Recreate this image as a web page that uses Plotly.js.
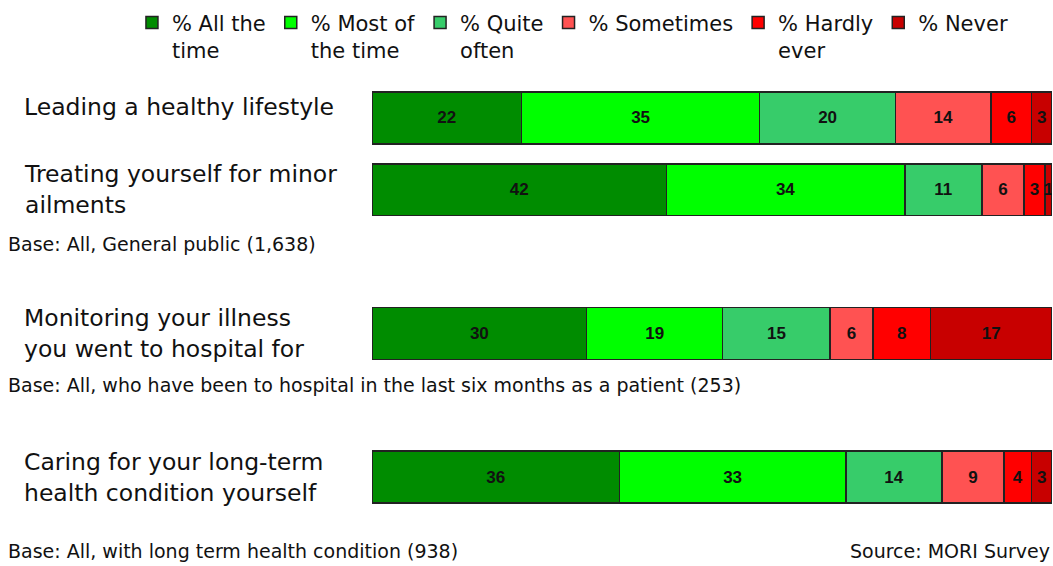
<!DOCTYPE html>
<html>
<head>
<meta charset="utf-8">
<script src="https://cdn.plot.ly/plotly-3.0.1.min.js"></script>
<style>
  html, body { margin: 0; padding: 0; background: #fff; }
  #chart { width: 1053px; height: 566px; }
</style>
</head>
<body>
<div id="chart"></div>
<script>
// categories (top to bottom) and the answer series
const activities = [
    'Leading a healthy lifestyle',
    'Treating yourself for minor<br>ailments',
    'Monitoring your illness<br>you went to hospital for',
    'Caring for your long-term<br>health condition yourself'
];
const seriesNames = ['% All the<br>time', '% Most of<br>the time', '% Quite<br>often', '% Sometimes', '% Hardly<br>ever', '% Never'];
const allTheTime = [22, 42, 30, 36];
const mostOfTheTime = [35, 34, 19, 33];
const quiteOften = [20, 11, 15, 14];
const sometimes = [14, 6, 6, 9];
const hardlyEver = [6, 3, 8, 4];
const never = [3, 1, 17, 3];

const baseNotes = [
    'Base: All, General public (1,638)',
    'Base: All, who have been to hospital in the last six months as a patient (253)',
    'Base: All, with long term health condition (938)'
];
const sourceNote = 'Source: MORI Survey';

// row slots on the y axis (gaps leave room for the base notes)
const rowSlots = [0, 1, 3, 5];
const colours = ['#008c00', '#00ff00', '#37cc6a', '#ff5252', '#ff0000', '#c80000'];
const series = [allTheTime, mostOfTheTime, quiteOften, sometimes, hardlyEver, never];

const fontFamily = 'DejaVu Sans, Verdana, sans-serif';

const traces = series.map((values, i) => ({
    type: 'bar',
    orientation: 'h',
    name: seriesNames[i],
    x: values,
    y: rowSlots,
    width: 0.72,
    text: values.map(String),
    textposition: 'inside',
    insidetextanchor: 'middle',
    textangle: 0,
    constraintext: 'none',
    textfont: { family: 'Liberation Sans, Arial, sans-serif', size: 17, color: '#111', weight: 'bold' },
    marker: { color: colours[i], line: { color: '#222', width: 1.5 } },
    hoverinfo: 'skip'
}));

const labelFont = { family: fontFamily, size: 23.5, color: '#111' };
const noteFont = { family: fontFamily, size: 19, color: '#111' };

const annotations = [];
activities.forEach((label, i) => {
    annotations.push({
        text: label,
        xref: 'paper', yref: 'y',
        x: -0.514, y: rowSlots[i],
        xanchor: 'left', yanchor: 'middle', align: 'left',
        yshift: i === 0 ? 11 : 0,
        showarrow: false,
        font: labelFont
    });
});
// base notes sit in paper coordinates (the last one is below the plot area)
const noteRows = [0.624, 0.297, -0.088];
baseNotes.forEach((note, i) => {
    annotations.push({
        text: note,
        xref: 'paper', yref: 'paper',
        x: -0.538, y: noteRows[i],
        xanchor: 'left', yanchor: 'middle',
        showarrow: false,
        font: noteFont
    });
});
annotations.push({
    text: sourceNote,
    xref: 'paper', yref: 'paper',
    x: 1, y: -0.088,
    xanchor: 'right', yanchor: 'middle',
    showarrow: false,
    font: noteFont
});

const layout = {
    width: 1053,
    height: 566,
    margin: { l: 372, r: 1, t: 82, b: 53 },
    paper_bgcolor: '#fff',
    plot_bgcolor: '#fff',
    barmode: 'stack',
    barnorm: 'percent',
    uniformtext: { minsize: 15, mode: 'show' },
    showlegend: true,
    legend: {
        orientation: 'h',
        x: -0.353, y: 1.185,
        xanchor: 'left', yanchor: 'top',
        traceorder: 'normal',
        valign: 'top',
        itemclick: false,
        font: { family: fontFamily, size: 21, color: '#111' },
        tracegroupgap: 0
    },
    xaxis: { visible: false, range: [0, 100], fixedrange: true },
    yaxis: { visible: false, range: [5.5, -0.5], fixedrange: true },
    annotations: annotations
};

Plotly.newPlot('chart', traces, layout, { displayModeBar: false, staticPlot: true });
</script>
</body>
</html>
